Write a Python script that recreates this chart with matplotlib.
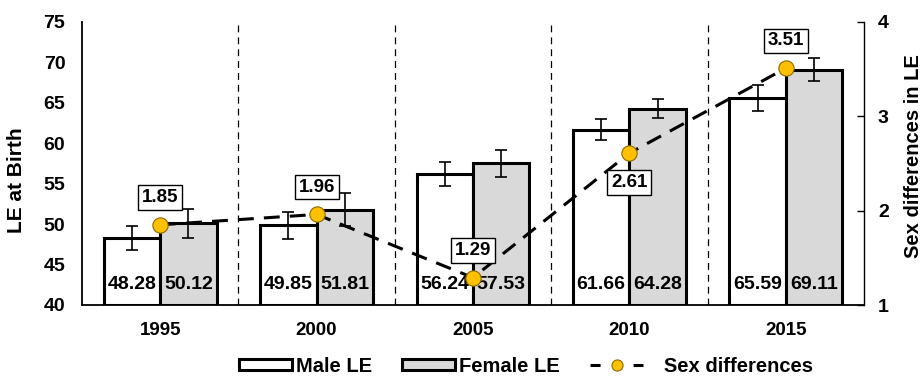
import numpy as np
import matplotlib
matplotlib.use("Agg")
import matplotlib.pyplot as plt
from matplotlib.patches import Patch
from matplotlib.lines import Line2D

plt.rcParams["font.family"] = ["Liberation Sans", "DejaVu Sans"]
plt.rcParams["font.weight"] = "bold"

years = ["1995", "2000", "2005", "2010", "2015"]
male_le = [48.28, 49.85, 56.24, 61.66, 65.59]
female_le = [50.12, 51.81, 57.53, 64.28, 69.11]
male_err = [1.5, 1.65, 1.5, 1.3, 1.65]
female_err = [1.8, 2.0, 1.7, 1.2, 1.4]
sex_diff = [1.85, 1.96, 1.29, 2.61, 3.51]
label_below = [False, False, False, True, False]

W, H = 921, 378
fig = plt.figure(figsize=(W / 100, H / 100), dpi=100)
ax = fig.add_axes([82 / W, 1 - 305 / H, (864 - 82) / W, (305 - 22) / H])

x = np.arange(len(years))
w = 0.36
ax.bar(x - w / 2, [v - 40 for v in male_le], w, bottom=40, color="white",
       edgecolor="black", linewidth=2.2, zorder=2)
ax.bar(x + w / 2, [v - 40 for v in female_le], w, bottom=40, color="#d9d9d9",
       edgecolor="black", linewidth=2.2, zorder=2)
ax.errorbar(x - w / 2, male_le, yerr=male_err, fmt="none", ecolor="black",
            elinewidth=1.2, capsize=4.5, capthick=1.2, zorder=3)
ax.errorbar(x + w / 2, female_le, yerr=female_err, fmt="none", ecolor="black",
            elinewidth=1.2, capsize=4.5, capthick=1.2, zorder=3)

for i in range(len(years)):
    ax.text(x[i] - w / 2, 42.5, f"{male_le[i]:.2f}", ha="center", va="center",
            fontsize=14, fontweight="bold", zorder=4)
    ax.text(x[i] + w / 2, 42.5, f"{female_le[i]:.2f}", ha="center", va="center",
            fontsize=14, fontweight="bold", zorder=4)

for xs in x[:-1] + 0.5:
    ax.axvline(xs, color="black", linestyle=(0, (5.5, 4)), linewidth=0.9, zorder=1)

ax.set_xlim(-0.5, len(years) - 0.5)
ax.set_ylim(40, 75)
ax.set_yticks(range(40, 80, 5))
ax.set_xticks(x)
ax.set_xticklabels(years)
ax.tick_params(axis="y", length=0, labelsize=14, pad=12)
ax.tick_params(axis="x", length=0, labelsize=13.5, pad=12)
ax.spines["top"].set_visible(False)
ax.spines["right"].set_visible(False)
ax.spines["left"].set_linewidth(1.3)
ax.spines["bottom"].set_linewidth(1.3)
fig.text(17 / W, 1 - 180 / H, "LE at Birth", rotation=90, ha="center", va="center",
         fontsize=15, fontweight="bold")

ax2 = ax.twinx()
ax2.plot(x, sex_diff, color="black", linestyle=(0, (5.2, 3.3)), linewidth=2.2,
         marker="o", markersize=11, markerfacecolor="#ffc000",
         markeredgecolor="#8a6a00", markeredgewidth=0.8, zorder=5)
ax2.set_ylim(1, 4)
ax2.set_yticks([1, 2, 3, 4])
ax2.tick_params(axis="y", direction="in", length=5, width=1, labelsize=14, pad=10)
for s in ["top", "left", "bottom"]:
    ax2.spines[s].set_visible(False)
ax2.spines["right"].set_linewidth(1.0)
fig.text(913 / W, 1 - 156 / H, "Sex differences in LE", rotation=90, ha="center",
         va="center", fontsize=14.5, fontweight="bold")

for i, v in enumerate(sex_diff):
    off = -0.31 if label_below[i] else 0.29
    ax2.text(x[i], v + off, f"{v:.2f}", ha="center", va="center", fontsize=13.5,
             fontweight="bold", zorder=6,
             bbox=dict(boxstyle="square,pad=0.2", facecolor="white",
                       edgecolor="black", linewidth=1))

handles = [
    Patch(facecolor="white", edgecolor="black", linewidth=2.2, label="Male LE"),
    Patch(facecolor="#d9d9d9", edgecolor="black", linewidth=2.2, label="Female LE"),
    Line2D([0], [0], color="black", linestyle=(0, (3.3, 10.8)), linewidth=2.2,
           marker="o", markersize=8, markerfacecolor="#ffc000",
           markeredgecolor="#8a6a00", markeredgewidth=0.8,
           label="   Sex differences"),
]
fig.legend(handles=handles, loc="center", bbox_to_anchor=(526 / W, 1 - 366 / H),
           ncol=3, frameon=False, fontsize=14.5, handlelength=2.64, handleheight=0.5,
           columnspacing=1.5, handletextpad=0.2, borderaxespad=0, borderpad=0)

fig.savefig("out.png", dpi=100)
